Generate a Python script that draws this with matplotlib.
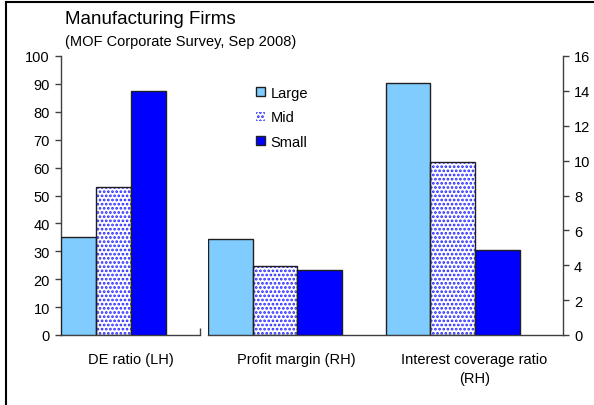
import matplotlib
matplotlib.use('AGG')
import matplotlib.pyplot as plt
from matplotlib.lines import Line2D

plt.rcParams['font.family'] = ['Liberation Sans', 'DejaVu Sans']
plt.rcParams['font.size'] = 10.5
plt.rcParams['hatch.linewidth'] = 1.3

# Data
series = ['Large', 'Mid', 'Small']
lh_categories = ['DE ratio (LH)']
rh_categories = ['Profit margin (RH)', 'Interest coverage ratio\n(RH)']
de_ratio = [35.0, 53.0, 87.5]          # left axis
profit_margin = [5.5, 3.95, 3.7]       # right axis
interest_cover = [14.45, 9.9, 4.9]     # right axis

colors = {'Large': '#80CCFF', 'Mid': 'white', 'Small': '#0000FF'}
bar_w = 0.252

fig = plt.figure(figsize=(5.94, 4.06), dpi=100)
W, H = 594.0, 406.0


def frac(x0, x1, ytop, ybot):
    return [x0 / W, 1 - ybot / H, (x1 - x0) / W, (ybot - ytop) / H]


ax_l = fig.add_axes(frac(61, 200, 57, 336))
ax_r = fig.add_axes(frac(208, 563, 57, 336))


def draw_bars(ax, values_by_series, ncat):
    handles = []
    for i, name in enumerate(series):
        xs = [c - 0.5 + (i + 0.5) * bar_w for c in range(ncat)]
        vals = values_by_series[i]
        if name == 'Mid':
            h = ax.bar(xs, vals, bar_w, color='white', edgecolor='#2828FF',
                       hatch='....', linewidth=0, zorder=2)
            ax.bar(xs, vals, bar_w, fill=False, edgecolor='#202020',
                   linewidth=1.0, zorder=3)
        else:
            h = ax.bar(xs, vals, bar_w, color=colors[name], edgecolor='#202020',
                       linewidth=1.0, zorder=3)
        handles.append(h)
    return handles


handles = draw_bars(ax_l, [[v] for v in de_ratio], 1)
draw_bars(ax_r, [[profit_margin[i], interest_cover[i]] for i in range(3)], 2)

# left axis
ax_l.set_xlim(-0.5, 0.5)
ax_l.set_ylim(0, 100)
ax_l.set_yticks(range(0, 101, 10))
ax_l.set_xticks([0])
ax_l.set_xticklabels(lh_categories)
ax_l.set_xticks([0.5], minor=True)
ax_l.tick_params(axis='x', which='major', length=0, pad=12)
ax_l.tick_params(axis='x', which='minor', direction='in', length=5, width=1, color='#404040')
ax_l.tick_params(axis='y', direction='out', length=4, width=1, color='#404040', pad=4)
for s in ['top', 'right']:
    ax_l.spines[s].set_visible(False)

# right axis
ax_r.set_xlim(-0.5, 1.5)
ax_r.set_ylim(0, 16)
ax_r.set_yticks(range(0, 17, 2))
ax_r.set_xticks([0, 1])
ax_r.set_xticklabels(rh_categories, linespacing=1.45)
ax_r.tick_params(axis='x', length=0, pad=12)
ax_r.yaxis.tick_right()
ax_r.tick_params(axis='y', direction='out', length=4, width=1, color='#404040', pad=4)
for s in ['top', 'left']:
    ax_r.spines[s].set_visible(False)

for ax in (ax_l, ax_r):
    for s in ax.spines.values():
        s.set_color('#404040')
        s.set_linewidth(1.0)
    ax.patch.set_visible(False)

fig.text(65 / W, 1 - 19 / H, 'Manufacturing Firms', fontsize=13.5, va='center', ha='left')
fig.text(65 / W, 1 - 42 / H, '(MOF Corporate Survey, Sep 2008)', fontsize=10.5,
         va='center', ha='left')

fig.legend(handles, series, loc='upper left', bbox_to_anchor=(256 / W, 1 - 87 / H),
           frameon=False, handlelength=0.6, handleheight=0.6, handletextpad=0.4,
           labelspacing=0.72, borderaxespad=0, borderpad=0)

# outer frame
fig.add_artist(Line2D([6 / W, 6 / W], [0, 1 - 3 / H], color='black', lw=1.5))
fig.add_artist(Line2D([6 / W, 1], [1 - 3 / H, 1 - 3 / H], color='black', lw=1.5))

fig.savefig('out.png', dpi=100)
